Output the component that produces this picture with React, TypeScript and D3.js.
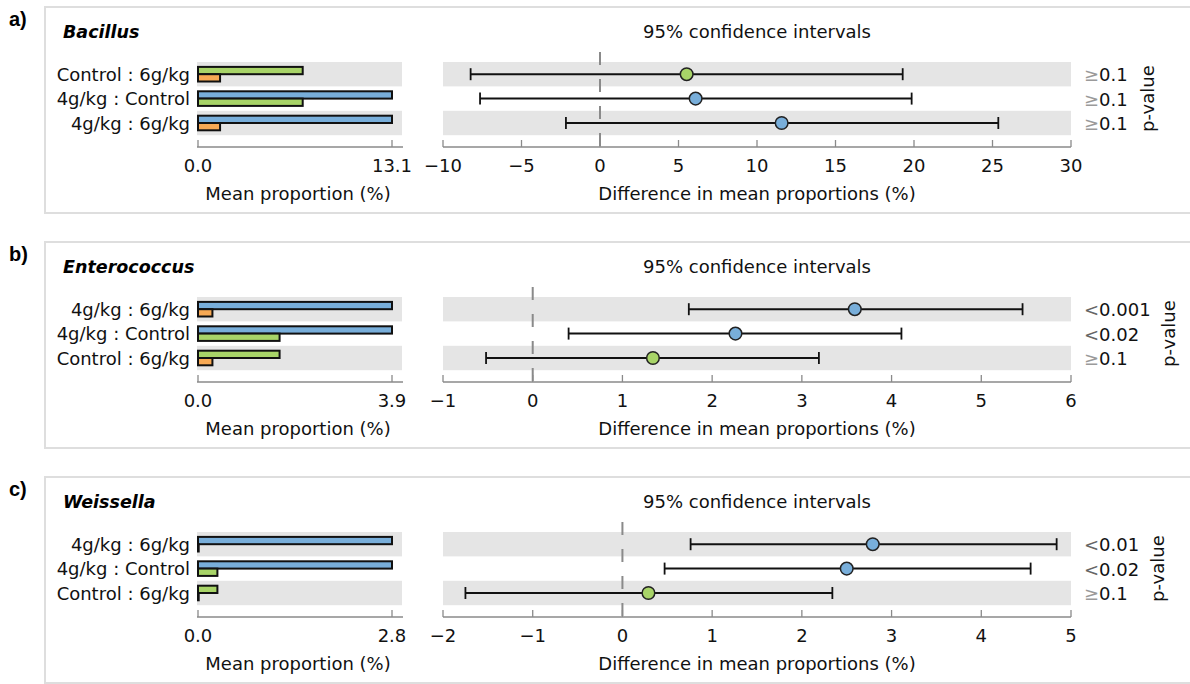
import React from "react";
import * as d3 from "d3";

// ---------- data ----------
const panelLabels = ["a)", "b)", "c)"];
const genera = ["Bacillus", "Enterococcus", "Weissella"];
const groups = ["4g/kg", "Control", "6g/kg"];
const groupColors = ["#78AEDA", "#A8D468", "#F7A954"];

// mean proportion (%) per group: 4g/kg, Control, 6g/kg
const bacillusMeans = [13.1, 7.07, 1.49];
const enterococcusMeans = [3.9, 1.64, 0.29];
const weissellaMeans = [2.8, 0.28, 0.01];
const barAxisMax = [13.1, 3.9, 2.8];

const bacillusComparisons = ["Control : 6g/kg", "4g/kg : Control", "4g/kg : 6g/kg"];
const enterococcusComparisons = ["4g/kg : 6g/kg", "4g/kg : Control", "Control : 6g/kg"];
const weissellaComparisons = ["4g/kg : 6g/kg", "4g/kg : Control", "Control : 6g/kg"];

const bacillusDiff = [5.52, 6.09, 11.57];
const bacillusLow = [-8.24, -7.64, -2.17];
const bacillusHigh = [19.28, 19.85, 25.37];

const enterococcusDiff = [3.59, 2.26, 1.34];
const enterococcusLow = [1.74, 0.4, -0.52];
const enterococcusHigh = [5.46, 4.11, 3.19];

const weissellaDiff = [2.79, 2.5, 0.29];
const weissellaLow = [0.76, 0.47, -1.75];
const weissellaHigh = [4.84, 4.55, 2.34];

const bacillusP = ["≥0.1", "≥0.1", "≥0.1"];
const enterococcusP = ["<0.001", "<0.02", "≥0.1"];
const weissellaP = ["<0.01", "<0.02", "≥0.1"];

const ciDomains = [[-10, 30], [-1, 6], [-2, 5]];
const ciTickSteps = [5, 1, 1];

const panels = [
  { means: bacillusMeans, comps: bacillusComparisons, diff: bacillusDiff, low: bacillusLow, high: bacillusHigh, p: bacillusP },
  { means: enterococcusMeans, comps: enterococcusComparisons, diff: enterococcusDiff, low: enterococcusLow, high: enterococcusHigh, p: enterococcusP },
  { means: weissellaMeans, comps: weissellaComparisons, diff: weissellaDiff, low: weissellaLow, high: weissellaHigh, p: weissellaP },
];

// ---------- layout ----------
const W = 1190;
const H = 684;
const panelTops = [7, 242, 477];
const FONT = "DejaVu Sans";
const FS = 18;
const TXT = "#111";
const rowTop = 55;
const rowH = 24.4;
const axisY = 140;
const barX0 = 198;
const barX1 = 392;
const ciX0 = 443;
const ciX1 = 1071;
const grey = "#8a8a8a";

const fmtTick = (v: number) => (v < 0 ? "\u2212" + Math.abs(v) : String(v));

function Panel({ idx }: { idx: number }) {
  const T = panelTops[idx];
  const pd = panels[idx];
  const xBar = d3.scaleLinear().domain([0, barAxisMax[idx]]).range([barX0, barX1]);
  const xCi = d3.scaleLinear().domain(ciDomains[idx]).range([ciX0, ciX1]);
  const [d0, d1] = ciDomains[idx];
  const ticks = d3.range(d0, d1 + 1e-9, ciTickSteps[idx]);
  const yRow = d3.scaleBand<number>().domain([0, 1, 2]).range([rowTop, rowTop + rowH * 3]).padding(0);
  const barH = 7.3;
  const maxPLen = d3.max(pd.p, (s) => s.length) as number;
  const pLabelX = 1105 + 10.5 * maxPLen;

  return (
    <g transform={`translate(0,${T})`}>
      <rect x={45} y={0} width={1160} height={206} fill="#fff" stroke="#dedede" strokeWidth={2} />
      <text x={9} y={19} fontFamily="Liberation Sans" fontWeight="bold" fontSize={20} fill="#000">
        {panelLabels[idx]}
      </text>
      <text x={63} y={31} fontFamily={FONT} fontWeight="bold" fontStyle="italic" fontSize={17.5} fill="#000">
        {genera[idx]}
      </text>
      <text x={(ciX0 + ciX1) / 2} y={31} textAnchor="middle" fontFamily={FONT} fontSize={FS} fill={TXT}>
        95% confidence intervals
      </text>

      {/* row backgrounds */}
      {[0, 2].map((r) => (
        <g key={"bg" + r}>
          <rect x={197} y={yRow(r)} width={205} height={yRow.bandwidth()} fill="#e5e5e5" />
          <rect x={ciX0} y={yRow(r)} width={ciX1 - ciX0} height={yRow.bandwidth()} fill="#e5e5e5" />
        </g>
      ))}

      {/* bars & labels */}
      {pd.comps.map((c, r) => {
        const [g1, g2] = c.split(" : ");
        const i1 = groups.indexOf(g1);
        const i2 = groups.indexOf(g2);
        const cy = (yRow(r) as number) + yRow.bandwidth() / 2;
        return (
          <g key={"row" + r}>
            <text x={190} y={cy} textAnchor="end" dominantBaseline="central" fontFamily={FONT} fontSize={FS} fill={TXT}>
              {c}
            </text>
            <rect x={xBar(0)} y={cy - barH} width={xBar(pd.means[i1]) - xBar(0)} height={barH} fill={groupColors[i1]} stroke="#111" strokeWidth={2} />
            <rect x={xBar(0)} y={cy} width={xBar(pd.means[i2]) - xBar(0)} height={barH} fill={groupColors[i2]} stroke="#111" strokeWidth={2} />
          </g>
        );
      })}

      {/* bar axis */}
      <line x1={197} x2={403} y1={axisY} y2={axisY} stroke={grey} strokeWidth={1.6} />
      {[0, barAxisMax[idx]].map((v) => (
        <g key={"bt" + v}>
          <line x1={xBar(v)} x2={xBar(v)} y1={axisY} y2={axisY - 7} stroke={grey} strokeWidth={1.3} />
          <text x={xBar(v)} y={axisY + 24.5} textAnchor="middle" fontFamily={FONT} fontSize={FS} fill={TXT}>
            {v.toFixed(1)}
          </text>
        </g>
      ))}
      <text x={(barX0 + barX1) / 2 + 3} y={axisY + 52.5} textAnchor="middle" fontFamily={FONT} fontSize={FS} fill={TXT}>
        Mean proportion (%)
      </text>

      {/* zero line */}
      <line x1={xCi(0)} x2={xCi(0)} y1={45} y2={axisY} stroke={grey} strokeWidth={2} strokeDasharray="13,14" />

      {/* CI */}
      {pd.comps.map((c, r) => {
        const g1 = c.split(" : ")[0];
        const i1 = groups.indexOf(g1);
        const cy = (yRow(r) as number) + yRow.bandwidth() / 2;
        return (
          <g key={"ci" + r}>
            <line x1={xCi(pd.low[r])} x2={xCi(pd.high[r])} y1={cy} y2={cy} stroke="#111" strokeWidth={2} />
            <line x1={xCi(pd.low[r])} x2={xCi(pd.low[r])} y1={cy - 6} y2={cy + 6} stroke="#111" strokeWidth={1.8} />
            <line x1={xCi(pd.high[r])} x2={xCi(pd.high[r])} y1={cy - 6} y2={cy + 6} stroke="#111" strokeWidth={1.8} />
            <circle cx={xCi(pd.diff[r])} cy={cy} r={6.3} fill={groupColors[i1]} stroke="#222" strokeWidth={1.5} />
            <text x={1084} y={cy} dominantBaseline="central" fontFamily={FONT} fontSize={FS} fill={TXT}>
              <tspan fill={pd.p[r][0] === "≥" ? "#9a9a9a" : "#666"}>{pd.p[r][0]}</tspan>
              <tspan>{pd.p[r].slice(1)}</tspan>
            </text>
          </g>
        );
      })}
      <text
        transform={`translate(${pLabelX},${rowTop + rowH * 1.5}) rotate(-90)`}
        textAnchor="middle"
        dominantBaseline="central"
        fontFamily={FONT}
        fontSize={FS}
        fill={TXT}
      >
        p-value
      </text>

      {/* CI axis */}
      <line x1={ciX0} x2={ciX1} y1={axisY} y2={axisY} stroke={grey} strokeWidth={1.6} />
      {ticks.map((v) => (
        <g key={"ct" + v}>
          <line x1={xCi(v)} x2={xCi(v)} y1={axisY} y2={axisY - 7} stroke={grey} strokeWidth={1.3} />
          <text x={xCi(v)} y={axisY + 24.5} textAnchor="middle" fontFamily={FONT} fontSize={FS} fill={TXT}>
            {fmtTick(v)}
          </text>
        </g>
      ))}
      <text x={(ciX0 + ciX1) / 2} y={axisY + 52.5} textAnchor="middle" fontFamily={FONT} fontSize={FS} fill={TXT}>
        Difference in mean proportions (%)
      </text>
    </g>
  );
}

export default function App() {
  return (
    <svg
      width={W}
      height={H}
      viewBox={`0 0 ${W} ${H}`}
      style={{ position: "absolute", left: 0, top: 0, background: "#fff", overflow: "hidden" }}
    >
      <rect x={0} y={0} width={W} height={H} fill="#fff" />
      {[0, 1, 2].map((i) => (
        <Panel key={i} idx={i} />
      ))}
    </svg>
  );
}
